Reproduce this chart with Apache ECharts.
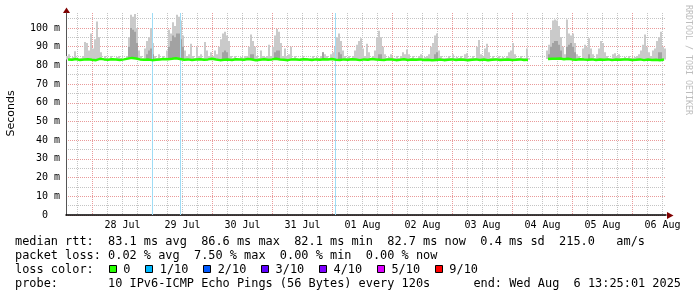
<!DOCTYPE html>
<html><head><meta charset="utf-8">
<script src="https://cdn.jsdelivr.net/npm/echarts@6/dist/echarts.min.js"></script>
<style>html,body{margin:0;padding:0;background:#fff}#c{width:697px;height:297px}</style>
</head><body><div id="c"></div>
<script>
// ---- time frame (hours since 27 Jul 00:00) ----
const startHour = 13 + 25/60 + 1/3600;   // 27 Jul 13:25:01
const spanHours = 240;                   // 10 days
const smokeBinHours = 0.8;               // smoke sampled every 48 min
const medianStepHours = 1.6;             // median sampled every 96 min

const dayLabels = ['28 Jul','29 Jul','30 Jul','31 Jul','01 Aug','02 Aug','03 Aug','04 Aug','05 Aug','06 Aug'];
const yTickValues = [0,10,20,30,40,50,60,70,80,90,100];
const yMinorValues = [5,15,25,35,45,55,65,75,85,95,105];

// ---- smoke: highest ping per bin (ms) ----
const smokeTop = [
 85,86,84,84.5,87.5,84,83.5,84,85,92.5,
 92,88,97,89,94,103.5,95,87,84,85,
 84,83.5,85,84,83.5,84.5,85,84,83.5,84,
 85,95,107,106,107.5,100,88,85,84,89,
 93,95,100,92,85,84,86,84,85,84,
 88,99,97,103,101,107,106,104,96,88,
 85,86,91.5,85,84,90,85,86,84,92.5,
 88,85,87,85,88,86,90,94,97,98,
 96,93,85,84,85,84,83.5,84.5,84,85,
 85,90,96.5,93,90,85,84,88,85,84.5,
 85,91,85,90,96,99.5,98,92,85,89,
 85,86,90,84,85,84,83.5,84,85,84,
 84,83.5,84,85,84,84.5,84,85,87,86,
 85,84,86,87,90,95,97,93,88,85,
 84,85,84,85,88,91,93,94.5,89,85,
 91.5,87,84,85,88,95,98.5,95,90,86,
 84,84.5,86,84,84,85,84,85,87,86,
 88.5,86,84,85,84,84,85,86,84,84.5,
 85,86,90,92,96,97,88,85,84,84,
 84,85,84,86,84,84.5,84,85,84,86,
 86.5,84,84,85,84,90,93.5,86,85,89,
 91.5,87,84,85,84,84,85,84,84.5,84,
 85,87,88,92,86,84,84,85,84,84,
 89,84,null,null,null,null,null,null,null,null,
 88,91,99,104,104.5,104,101,95,90,86,
 104.5,97,96,97,92,86,85,84,89,91,
 90,94.5,89,86,84,86,89,93,92,87,
 85,84,84,86,86.5,85,86,84,84,84.5,
 84,85,84,84,84.5,85,86,88,91,96.5,
 90,87,85,88,89,93,95,98,90,89
];
// ---- denser (darker) smoke: [bin, top ms] ----
const smokeDark = [
 [31,90],[32,100],[33,99],[34,98],[35,92],
 [40,86],[41,88],[42,89],[43,86],
 [51,90],[52,93],[53,96],[54,95],[55,97],[56,97],[57,94],[58,90],
 [78,87],[79,88],[80,87],
 [92,86],[93,86],
 [104,87],[105,88],[106,88],
 [128,87],
 [136,87],[137,86],
 [156,86],[157,86],
 [184,86],[185,87],
 [241,86],[242,90],[243,92],[244,93],[245,93],[246,91],[247,88],
 [250,90],[251,91],[252,92],[253,90],[254,87],
 [261,86],
 [296,87],[297,87]
];
// ---- median rtt (ms) ----
const medianRtt = [
 83.2,83.0,83.4,82.9,83.1,83.3,83.0,82.8,83.5,83.2,
 83.0,83.3,83.1,82.9,83.2,83.6,84.0,83.7,83.2,83.0,
 83.1,82.8,83.0,83.2,83.4,83.3,83.5,83.8,83.4,83.0,
 83.2,82.9,83.1,83.3,83.0,83.2,83.5,83.1,82.8,83.0,
 83.1,82.9,83.3,83.2,83.0,83.4,83.1,82.7,83.0,83.3,
 83.0,83.2,83.5,83.1,83.0,82.8,83.2,83.1,83.0,83.3,
 83.1,82.9,83.2,83.0,83.3,83.1,83.4,83.0,82.9,83.2,
 83.0,83.3,83.1,82.8,83.2,83.0,83.4,83.2,83.0,82.9,
 83.2,83.1,82.8,83.0,83.3,82.9,83.1,83.0,83.2,82.9,
 83.0,82.7,82.9,83.1,82.8,83.0,83.2,82.9,83.1,83.0,
 82.8,83.0,83.2,82.9,83.1,82.7,83.0,83.2,82.9,83.0,
 83.1,82.9,83.0,83.2,82.9,83.0,null,null,null,null,
 83.4,83.6,83.5,83.7,83.3,83.5,83.2,83.0,83.3,83.1,
 83.0,83.2,82.9,83.1,83.0,83.2,82.8,83.1,83.0,83.2,
 83.1,82.9,83.0,83.2,82.8,83.1,82.9,83.0,82.7,83.1
];
// ---- loss events (hours after start) ----
const lossEventHours = [34.4, 45.6, 107.6];

// ---- legend / stats text ----
const lossLabels = ['0','1/10','2/10','3/10','4/10','5/10','9/10'];
const lossColors = ['#26ff00','#00b8ff','#0059ff','#5e00ff','#7e00ff','#dd00ff','#ff0000'];
const statLines = [
 'median rtt:  83.1 ms avg  86.6 ms max  82.1 ms min  82.7 ms now  0.4 ms sd  215.0   am/s',
 'packet loss: 0.02 % avg  7.50 % max  0.00 % min  0.00 % now',
 'loss color:',
 'probe:       10 IPv6-ICMP Echo Pings (56 Bytes) every 120s'
];
const endText = 'end: Wed Aug  6 13:25:01 2025';
const yTitle = 'Seconds';
const watermark = 'RRDTOOL / TOBI OETIKER';

// ---- build series data: [time, median(base), dark top, light top] ----
const darkMap = {};
smokeDark.forEach(([i, v]) => { darkMap[i] = v; });
const smokeData = [];
for (let i = 0; i < smokeTop.length; i++) {
  const x = startHour + (i + 0.5) * smokeBinHours;
  const m = medianRtt[Math.floor(i * smokeBinHours / medianStepHours)];
  const t = smokeTop[i];
  if (m == null || t == null) continue;
  const d = darkMap[i] != null ? Math.max(darkMap[i], m) : m;
  smokeData.push([x, m, d, Math.max(t, d)]);
}
const medianData = medianRtt.map((v, j) => [startHour + (j + 0.5) * medianStepHours, v]);

const midnights = [], noons = [], sixHours = [];
for (let h = Math.ceil(startHour / 6) * 6; h <= startHour + spanHours; h += 6) {
  if (h % 24 === 0) midnights.push(h); else sixHours.push(h);
  if (h % 24 === 12) noons.push(h);
}

const MONO = '"DejaVu Sans Mono", monospace';
const majorColor = '#e99a9a', minorColor = '#c4c4c4';

// ---- text graphics ----
const charW = 7.154, textX = 15, fontPx = 11.9;
const rowY = [241.5, 255.5, 269.5, 283.5];
const graphics = [];
statLines.forEach((s, k) => graphics.push({type:'text', x:textX, y:rowY[k], silent:true,
  style:{text:s, font: fontPx + 'px ' + MONO, fill:'#000', verticalAlign:'middle', textVerticalAlign:'middle'}}));
graphics.push({type:'text', x:681, y:rowY[3], silent:true,
  style:{text:endText, font: fontPx + 'px ' + MONO, fill:'#000', align:'right', textAlign:'right', verticalAlign:'middle', textVerticalAlign:'middle'}});
let bx = textX + 13 * charW + 1;
lossLabels.forEach((lab, k) => {
  graphics.push({type:'rect', silent:true, shape:{x:Math.round(bx)+0.5, y:265.5, width:7, height:7},
    style:{fill:lossColors[k], stroke:'#000', lineWidth:1}});
  graphics.push({type:'text', x:bx + 14.3, y:rowY[2], silent:true,
    style:{text:lab, font: fontPx + 'px ' + MONO, fill:'#000', verticalAlign:'middle', textVerticalAlign:'middle'}});
  bx += 14.3 + lab.length * charW + 15;
});
graphics.push({type:'text', x:11, y:113.5, rotation:Math.PI/2, silent:true,
  style:{text:yTitle, font:'11px "DejaVu Sans", sans-serif', fill:'#000', align:'center', textAlign:'center', verticalAlign:'middle', textVerticalAlign:'middle'}});
graphics.push({type:'text', x:688, y:5, rotation:-Math.PI/2, silent:true,
  style:{text:watermark, font:'8.3px ' + MONO, fill:'#bdbdbd', align:'left', textAlign:'left', verticalAlign:'middle', textVerticalAlign:'middle'}});
// axis arrows
graphics.push({type:'polygon', silent:true, shape:{points:[[66.5,7.5],[63,13],[70,13]]}, style:{fill:'#800000'}});
graphics.push({type:'polygon', silent:true, shape:{points:[[673.5,215.5],[667,212],[667,219]]}, style:{fill:'#800000'}});

function renderSmoke(params, api) {
  const x = api.value(0), b = api.value(1), d = api.value(2), t = api.value(3);
  const half = smokeBinHours / 2;
  const pb = api.coord([x - half, b]);
  const pr = api.coord([x + half, t]);
  const pd = api.coord([x + half, d]);
  const left = Math.round(pb[0]), right = Math.round(pr[0]);
  const children = [];
  if (pb[1] - pr[1] > 0.3) children.push({type:'rect', shape:{x:left, y:pr[1], width:right-left, height:pb[1]-pr[1]}, style:{fill:'#cacaca'}});
  if (pb[1] - pd[1] > 0.3) children.push({type:'rect', shape:{x:left, y:pd[1], width:right-left, height:pb[1]-pd[1]}, style:{fill:'#a2a2a2'}});
  return {type:'group', children};
}

const chart = echarts.init(document.getElementById('c'), null, {renderer:'canvas'});
chart.setOption({
  animation: false,
  backgroundColor: '#fff',
  grid: {left:66, right:31, top:13, bottom:82, containLabel:false},
  xAxis: [
    { type:'value', min:startHour, max:startHour + spanHours, position:'bottom',
      axisLine:{show:true, onZero:false, lineStyle:{color:'#000', width:1.5}},
      axisTick:{show:false, customValues:midnights},
      axisLabel:{customValues:noons, formatter:v => dayLabels[Math.round((v - 36) / 24)],
        fontFamily:MONO, fontSize:10, color:'#000', margin:5},
      splitLine:{show:true, lineStyle:{color:majorColor, width:1, type:[1,1]}} },
    { type:'value', min:startHour, max:startHour + spanHours, position:'bottom',
      axisLine:{show:false}, axisTick:{show:false, customValues:sixHours}, axisLabel:{show:false},
      splitLine:{show:true, lineStyle:{color:minorColor, width:1, type:[1,1]}} }
  ],
  yAxis: [
    { type:'value', min:0, max:108,
      axisLine:{show:true, lineStyle:{color:'#555', width:1}},
      axisTick:{show:false, customValues:yTickValues},
      axisLabel:{customValues:yTickValues, formatter:v => v === 0 ? '0  ' : v + ' m',
        fontFamily:MONO, fontSize:10, color:'#000', margin:6},
      splitLine:{show:true, lineStyle:{color:majorColor, width:1, type:[1,1]}} },
    { type:'value', min:0, max:108, position:'left',
      axisLine:{show:false}, axisTick:{show:false, customValues:yMinorValues}, axisLabel:{show:false},
      splitLine:{show:true, lineStyle:{color:minorColor, width:1, type:[1,1]}} }
  ],
  series: [
    { type:'custom', data:smokeData, renderItem:renderSmoke, silent:true, clip:true,
      encode:{x:0, y:[1,2,3]}, z:2,
      markLine:{silent:true, symbol:['none','none'], label:{show:false},
        lineStyle:{color:'#9fdcf5', width:1, type:'solid'},
        data: lossEventHours.map(h => ({xAxis: startHour + h}))} },
    { type:'line', data:medianData, showSymbol:false, connectNulls:false, silent:true,
      lineStyle:{color:lossColors[0], width:2.5}, z:5 }
  ],
  graphic: graphics
});
</script></body></html>
